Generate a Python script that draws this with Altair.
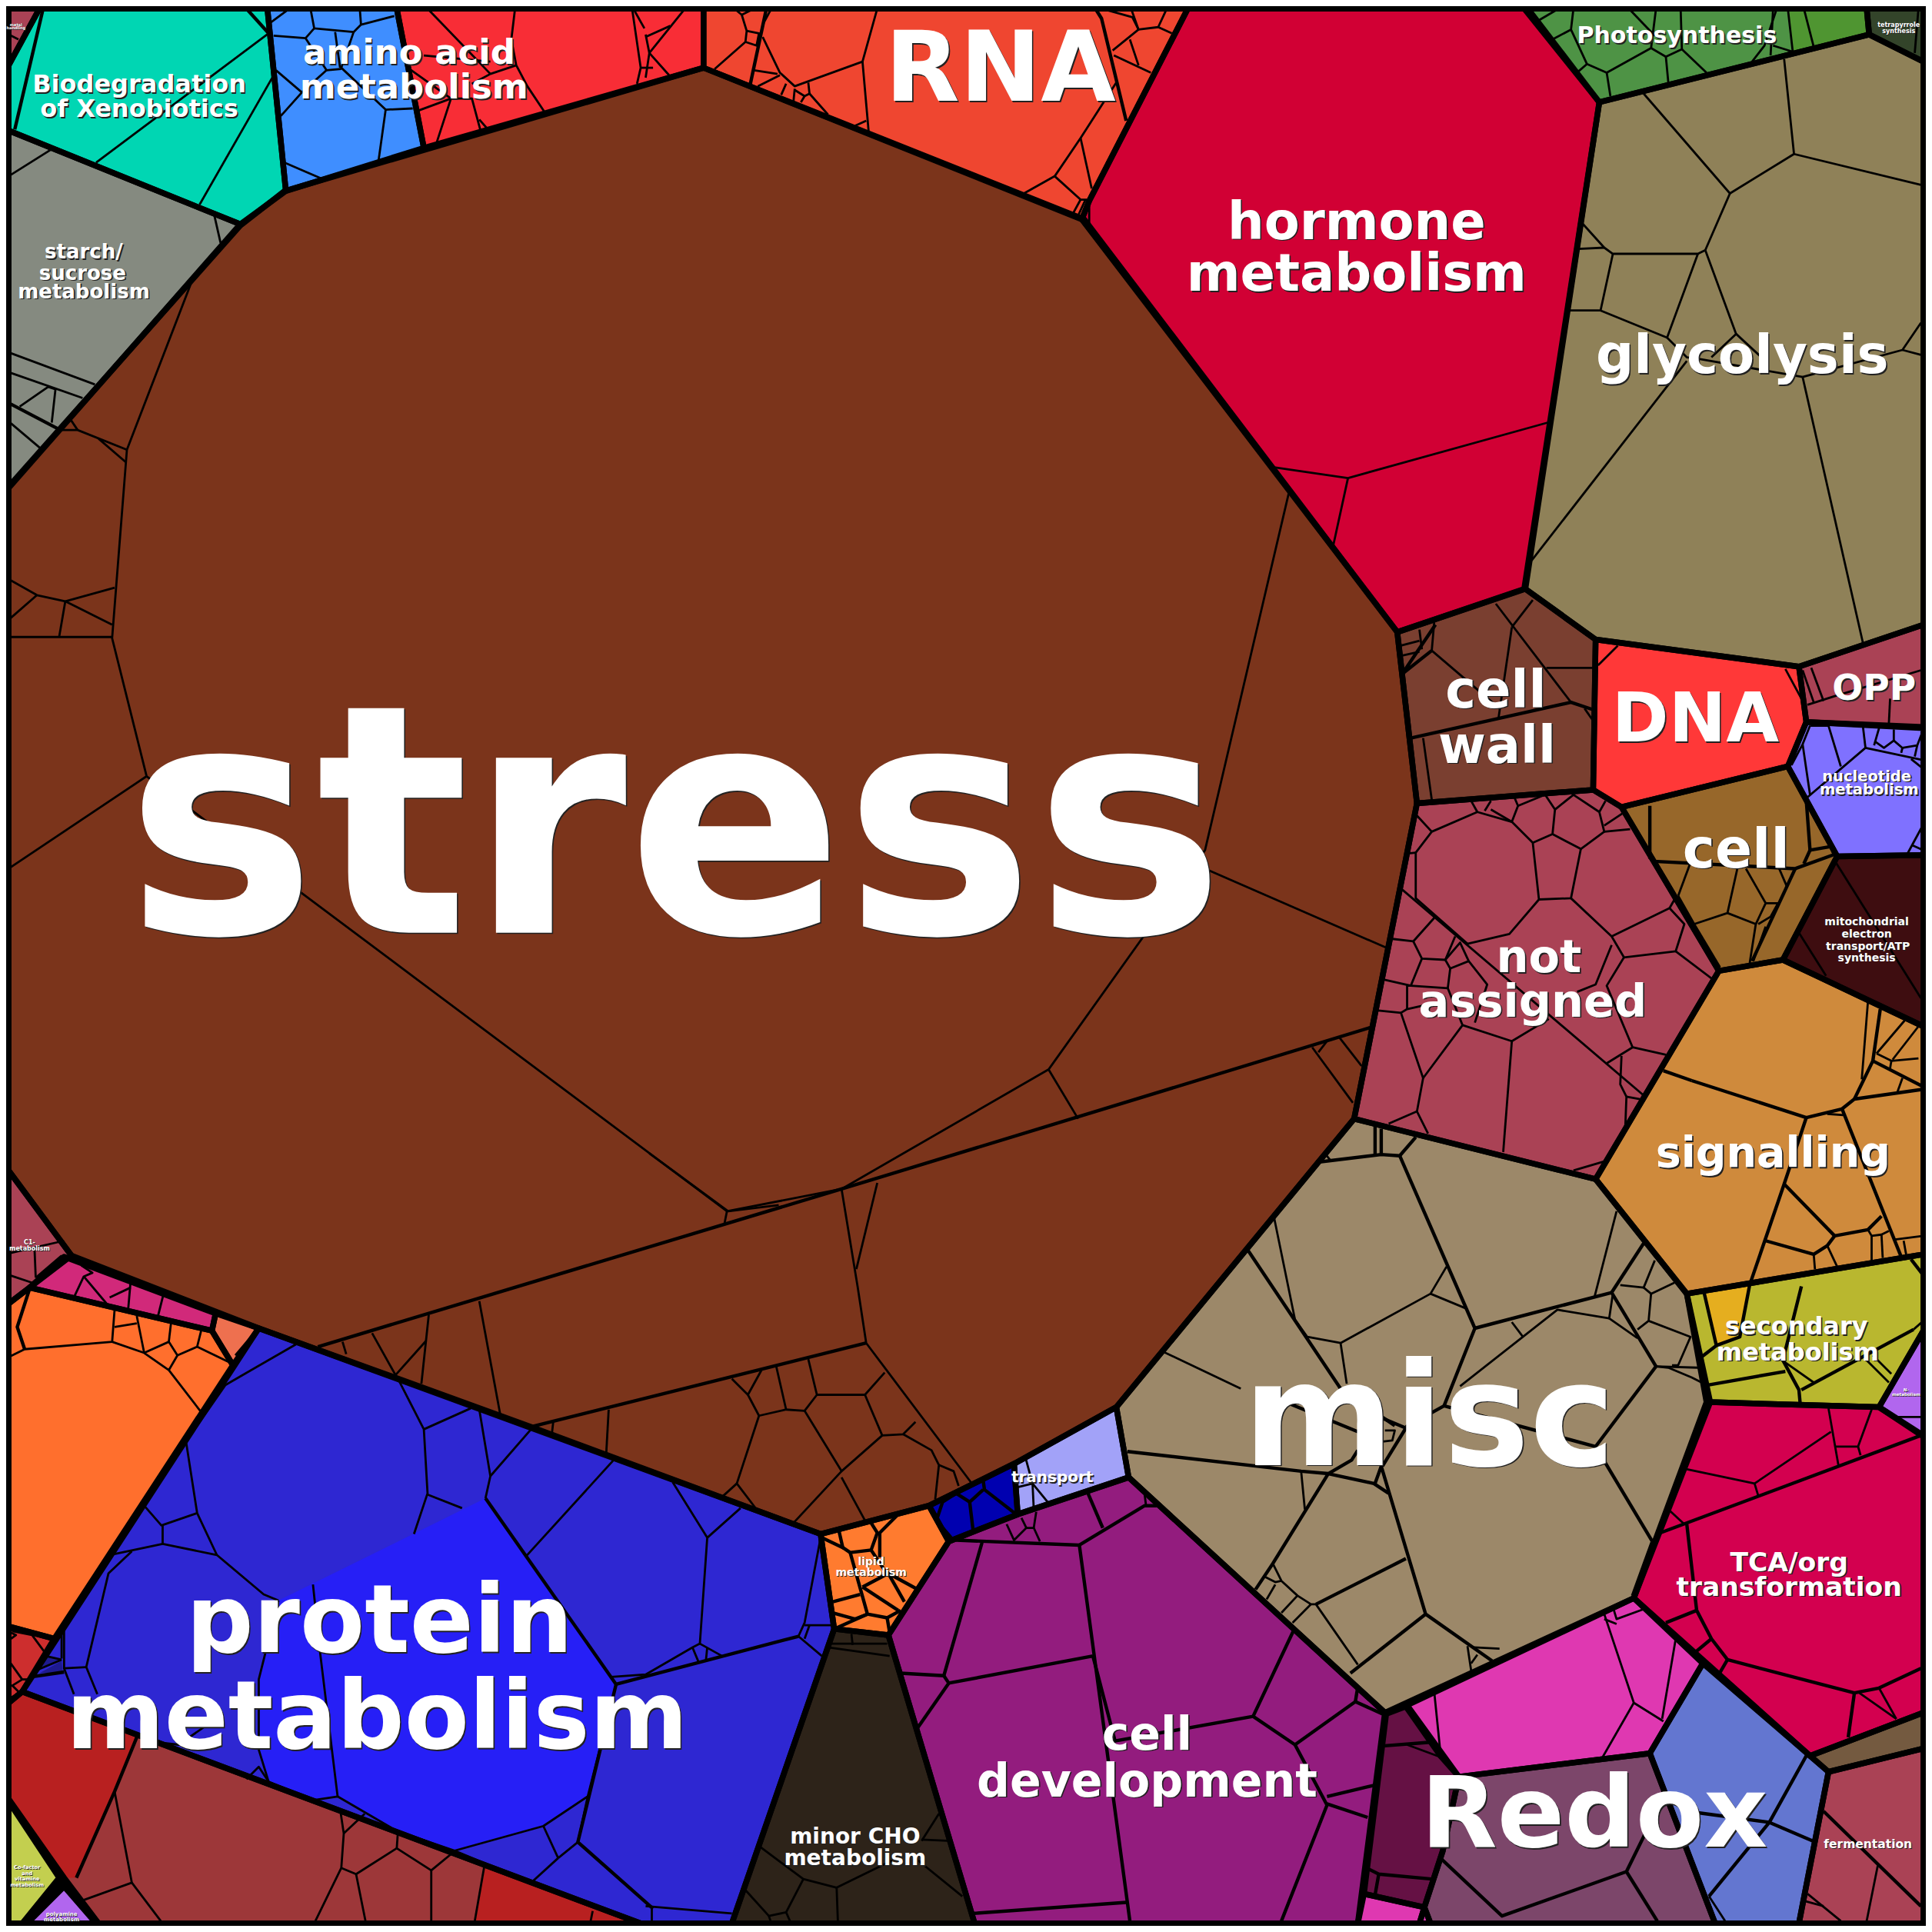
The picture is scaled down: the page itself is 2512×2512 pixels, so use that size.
import altair as alt

# ---- top-level cells: outline vertices (1568-unit canvas)
STRESS = [(7,395),(195,183),(231,155),(571,55),(880,178),(1134,513),(1150,652),(1099,908),(906,1142),(823,1188),(754,1222),(666,1245),(431,1158),(210,1078),(58,1019),(7,950)]
HORMONE = [(964,7),(1237,7),(1298,83),(1237,478),(1134,513),(878,178),(884,163)]
RNA = [(571,7),(964,7),(884,163),(878,178),(571,55)]
RED_TOP = [(322,7),(571,7),(571,55),(344,120)]
AMINO = [(217,7),(322,7),(344,120),(232,155)]
BIODEG = [(7,53),(32,7),(217,7),(232,155),(195,182),(7,106)]
METAL = [(7,7),(32,7),(7,53)]
STARCH = [(7,106),(195,182),(7,396)]
PHOTO = [(1240,7),(1515,7),(1517,28),(1298,83)]
TETRA = [(1515,7),(1561,7),(1561,50),(1517,28)]
GLYCO = [(1298,83),(1517,28),(1561,50),(1561,507),(1460,541),(1295,519),(1238,478)]
CELLWALL = [(1134,513),(1238,478),(1295,519),(1293,641),(1150,652)]
DNA = [(1295,519),(1460,541),(1466,586),(1451,622),(1316,655),(1293,641)]
OPP = [(1460,541),(1561,507),(1561,590),(1466,586)]
NUCLEO = [(1466,586),(1561,591),(1561,694),(1491,695),(1451,622)]
CELL = [(1316,655),(1451,622),(1491,695),(1447,779),(1395,788)]
MITO = [(1491,695),(1561,694),(1561,833),(1447,779)]
NOTASSIGNED = [(1150,652),(1293,641),(1316,655),(1395,788),(1295,957),(1099,908)]
SIGNAL = [(1395,788),(1447,779),(1561,833),(1561,1018),(1369,1050),(1295,957)]
SECONDARY = [(1369,1050),(1561,1018),(1561,1080),(1525,1142),(1388,1138)]
NMETAB = [(1561,1080),(1525,1142),(1561,1165)]
TCA = [(1388,1138),(1525,1142),(1561,1166),(1561,1390),(1469,1425),(1326,1297)]
SLIVER = [(1469,1425),(1561,1390),(1561,1419),(1484,1438)]
FERMENT = [(1484,1438),(1561,1419),(1561,1561),(1460,1561)]
REDOX_MAGENTA = [(1142,1384),(1326,1297),(1382,1350),(1339,1423),(1184,1442)]
REDOX_BLUE = [(1382,1350),(1469,1425),(1484,1438),(1460,1561),(1392,1561),(1339,1423)]
REDOX_MAUVE = [(1184,1442),(1339,1423),(1392,1561),(1161,1561),(1156,1548),(1171,1502)]
DARKPURPLE = [(1125,1391),(1141,1385),(1169,1425),(1184,1442),(1171,1502),(1156,1548),(1107,1537)]
MAGENTA_LOW = [(1107,1537),(1156,1548),(1152,1561),(1102,1561)]
MAGENTA_TINY = [(1156,1548),(1161,1561),(1152,1561)]
MISC = [(906,1142),(1099,908),(1295,957),(1369,1050),(1385,1138),(1326,1297),(1124,1390),(916,1199)]
CELLDEV = [(721,1327),(770,1251),(826,1229),(916,1199),(1124,1390),(1102,1561),(791,1561)]
TRANSPORT = [(906,1142),(916,1199),(826,1229),(823,1188)]
DARKBLUE = [(754,1222),(823,1188),(826,1229),(770,1251)]
LIPID = [(666,1245),(754,1222),(770,1251),(721,1327),(677,1322)]
MINORCHO = [(677,1322),(721,1327),(791,1561),(594,1561)]
PROTEIN = [(210,1078),(666,1245),(677,1322),(594,1561),(520,1561),(18,1373)]
BROWNRED = [(7,1382),(18,1373),(520,1561),(80,1561),(52,1524),(7,1460)]
COFACTOR = [(7,1462),(48,1524),(18,1561),(7,1561)]
POLYAMINE = [(52,1531),(78,1561),(22,1561)]
ORANGE = [(7,1058),(24,1045),(172,1080),(189,1108),(44,1330),(7,1320)]
PINK = [(52,1020),(175,1066),(172,1080),(24,1045)]
SALMON = [(175,1066),(210,1078),(189,1108),(172,1080)]
C1 = [(7,950),(58,1019),(7,1058)]
REDSMALL = [(7,1320),(44,1330),(18,1373),(7,1382)]

TOP_CELLS = [
    (STRESS,"#7b341b"),(HORMONE,"#d10034"),(RNA,"#ef4630"),(RED_TOP,"#f82d36"),(AMINO,"#3f8eff"),
    (BIODEG,"#00d6b3"),(METAL,"#aa4255"),(STARCH,"#858a80"),(PHOTO,"#4e9345"),(TETRA,"#33442a"),
    (GLYCO,"#8f8158"),(CELLWALL,"#7a3f30"),(DNA,"#ff3838"),(OPP,"#aa4255"),(NUCLEO,"#7f71ff"),
    (CELL,"#97672a"),(MITO,"#3e0d10"),(NOTASSIGNED,"#aa4255"),(SIGNAL,"#cf8a3c"),(SECONDARY,"#b9b72f"),
    (NMETAB,"#b166ee"),(TCA,"#d3004f"),(SLIVER,"#745a40"),(FERMENT,"#aa4255"),(REDOX_MAGENTA,"#df38b1"),
    (REDOX_BLUE,"#6376d0"),(REDOX_MAUVE,"#7c466a"),(DARKPURPLE,"#651144"),(MAGENTA_LOW,"#df38b1"),(MAGENTA_TINY,"#df38b1"),(MISC,"#9c8869"),
    (CELLDEV,"#931c7e"),(TRANSPORT,"#a2a2f8"),(DARKBLUE,"#0000b0"),(LIPID,"#ff7b2f"),(MINORCHO,"#2d2319"),
    (PROTEIN,"#2e27d2"),(BROWNRED,"#9d3739"),(COFACTOR,"#c3cf4f"),(POLYAMINE,"#b166ee"),(ORANGE,"#ff6f2d"),
    (PINK,"#d1297a"),(SALMON,"#ee704f"),(C1,"#aa4255"),(REDSMALL,"#cd2e2e"),
]

# ---- sub-cells with a shade of their own (no thick outline)
BRIGHT_BLUE = [(226,1299),(210,1363),(210,1420),(218,1446),(254,1461),(274,1458),(322,1486),(369,1502),(441,1482),(477,1458),(500,1367),(394,1216)]
RED_LEFT = [(7,1382),(18,1373),(111,1410),(93,1454),(62,1524),(52,1524),(7,1460)]
RED_BOTTOM = [(393,1515),(520,1561),(385,1561)]
SUB_CELLS = [
    (BRIGHT_BLUE,"#261ff6"),
    ([(1451,7),(1515,7),(1517,28),(1455,42)],"#4f9531"),
    ([(1383,1049),(1393,1092),(1412,1085),(1420,1043)],"#e5ae1f"),
    (RED_LEFT,"#b82020"),
    (RED_BOTTOM,"#b82020"),
    ([(37,1344),(50,1347),(31,1355)],"#1e1a90"),
    ([(32,1358),(50,1348),(51,1357)],"#1e1a90"),
]

# ---- medium-weight inner boundaries
MEDIUM = [
    [(258,1093),(683,965),(1112,834)],
    [(431,1158),(703,1090)],
    [(1145,599),(1275,570),(1293,576)],
    [(1162,528),(1138,547),(1165,507)],
    [(1342,699),(1457,705),(1490,693)],
    [(1457,705),(1422,780)],
    [(1339,654),(1339,697)],
    [(1466,650),(1469,690),(1486,687),(1488,692)],
    [(1469,690),(1464,701)],
    # signalling
    [(1373,877),(1466,907),(1495,900),(1505,892),(1561,884)],
    [(1350,869),(1373,877)],
    [(1505,892),(1520,861),(1561,882)],
    [(1466,907),(1448,961),(1421,1040)],
    [(1448,961),(1489,1003),(1516,998),(1527,987)],
    [(1495,900),(1543,1020)],
    [(1489,1003),(1483,1011),(1472,1018),(1433,1007)],
    [(1526,819),(1520,861)],
    # secondary
    [(1383,1049),(1393,1092),(1412,1085),(1420,1043)],
    [(1462,1044),(1447,1104),(1460,1128),(1461,1139)],
    [(1387,1124),(1449,1113)],
    [(1380,1102),(1393,1092)],
    [(1462,1128),(1553,1079)],
    [(1551,1022),(1561,1035)],
    # TCA
    [(1345,1245),(1559,1165)],
    [(1369,1237),(1377,1307),(1389,1330),(1402,1347),(1505,1374),(1525,1370),(1559,1354)],
    [(1377,1307),(1352,1317)],
    [(1389,1330),(1377,1340)],
    [(1402,1347),(1395,1359)],
    [(1505,1374),(1500,1410)],
    # redox
    [(1466,1425),(1436,1479),(1387,1539)],
    [(1436,1479),(1471,1494)],
    [(1369,1470),(1436,1479)],
    [(1480,1470),(1559,1547)],
    [(1352,1454),(1320,1519),(1219,1555),(1169,1508)],
    [(1320,1519),(1345,1559)],
    # misc
    [(1071,943),(1121,937),(1136,938),(1149,923)],
    [(1116,914),(1116,937)],[(1121,916),(1121,937)],
    [(1136,938),(1197,1078),(1172,1141),(1163,1146),(1141,1158)],
    [(1013,1015),(1088,1127),(1132,1157)],
    [(1036,985),(1071,943)],
    [(1197,1078),(1308,1049),(1344,1109),(1295,1174),(1172,1141)],
    [(1295,1174),(1341,1251),(1325,1295)],
    [(1308,1049),(1334,1009)],
    [(915,1178),(1056,1194),(1078,1196),(1115,1204),(1127,1212)],
    [(1078,1196),(1033,1269),(1019,1290)],
    [(1078,1196),(1097,1185),(1102,1177)],
    [(1122,1190),(1141,1159),(1122,1151)],
    [(1116,1204),(1121,1190),(1157,1310),(1211,1348)],
    [(1157,1310),(1096,1358)],
    [(1046,1139),(1102,1162)],
    [(1068,1302),(1141,1265)],
    # cell development
    [(776,1250),(876,1254),(917,1559)],
    [(876,1254),(929,1222),(939,1222)],
    [(797,1252),(766,1360)],
    [(731,1358),(766,1360),(770,1366),(887,1344)],
    [(770,1366),(745,1402)],
    [(789,1553),(914,1544)],
    [(887,1344),(905,1413),(1017,1393),(1050,1323)],
    [(1017,1393),(1051,1416),(1100,1381),(1122,1391)],
    [(1102,1369),(1100,1381)],
    [(1051,1416),(1077,1465),(1040,1559)],
    [(883,1212),(895,1240)],
    [(1077,1458),(1115,1449)],
    [(1077,1464),(1110,1475)],
    # dark purple
    [(1109,1516),(1119,1521),(1162,1525)],
    [(1119,1521),(1116,1538)],
    [(1122,1417),(1161,1414)],
    # dark blue
    [(798,1202),(799,1209),(826,1230)],
    [(776,1212),(787,1219),(798,1209)],
    [(787,1219),(790,1244)],
    [(776,1212),(765,1219),(760,1234),(772,1248)],
    # lipid
    [(667,1248),(684,1256),(681,1243)],
    [(684,1256),(690,1260),(707,1258),(712,1244),(707,1236)],
    [(728,1230),(714,1244),(714,1264)],
    [(690,1260),(704,1310),(720,1313),(731,1307)],
    [(676,1300),(698,1294)],
    [(676,1309),(694,1314),(704,1310)],
    [(704,1310),(677,1322)],
    [(700,1288),(729,1307)],
    [(700,1288),(721,1277),(734,1300)],
    [(721,1277),(743,1289)],
    [(707,1258),(721,1279)],
    [(720,1313),(722,1325)],
    # protein
    [(394,1216),(500,1367),(648,1328)],
    [(500,1367),(469,1495),(530,1549)],
    [(25,1361),(52,1357)],
    # small pieces
    [(7,327),(49,349)],
    [(609,68),(622,7)],
    [(889,7),(894,15),(914,98)],
    [(35,7),(12,105)],
    [(200,7),(218,27)],
    [(24,1046),(14,1077),(20,1095)],
    [(111,1410),(93,1454),(62,1524)],
    [(18,1373),(8,1379)],
]

# ---- thin inner boundaries
THIN = [
    # stress
    [(155,230),(103,365),(91,518),(119,630),(245,725),(590,983),(683,965),(851,868),(978,690),(1046,400)],
    [(119,630),(7,705)],[(978,705),(1127,770)],[(851,868),(875,908)],[(590,983),(588,993)],
    [(103,365),(63,349),(50,349)],[(80,356),(102,375)],[(57,340),(63,349)],
    [(93,477),(53,488),(30,483),(7,470)],[(53,488),(91,507)],[(30,483),(7,503)],[(53,488),(48,517)],[(7,517),(91,517)],
    [(683,965),(696,1044),(703,1090),(788,1203)],[(712,960),(695,1030)],
    [(594,1119),(607,1132),(618,1112)],[(607,1132),(616,1149),(638,1144),(630,1109)],
    [(638,1144),(653,1145),(663,1132),(656,1103)],[(663,1132),(702,1132),(718,1114)],
    [(702,1132),(716,1165),(733,1164),(743,1154)],[(733,1164),(756,1177),(762,1189),(759,1217)],
    [(716,1165),(683,1194),(653,1145)],[(616,1149),(598,1204),(614,1225)],[(598,1204),(587,1214)],
    [(683,1194),(644,1236)],[(683,1199),(702,1234)],[(762,1189),(774,1194),(778,1206)],
    [(389,1056),(406,1148)],[(348,1067),(342,1123)],[(302,1082),(321,1116),(346,1088)],[(278,1089),(281,1099)],
    [(449,1154),(448,1163)],[(494,1144),(492,1180)],[(527,936),(591,983),(632,978)],
    [(1065,850),(1098,895)],[(1087,842),(1105,865)],[(1077,845),(1070,854)],
    # glycolysis
    [(1334,76),(1404,157),(1384,203),(1378,206),(1309,206),(1302,201),(1284,181)],
    [(1448,48),(1456,125),(1559,150)],[(1456,125),(1404,157)],[(1302,201),(1281,202)],
    [(1309,206),(1299,252),(1274,252)],[(1299,252),(1353,274),(1378,206)],[(1384,203),(1409,271),(1389,290)],
    [(1353,274),(1369,290),(1377,291),(1463,306)],[(1369,293),(1243,455)],[(1409,271),(1435,295)],
    [(1463,306),(1512,522)],[(1463,306),(1544,284),(1559,262)],[(1544,284),(1559,288)],
    # hormone
    [(1256,343),(1094,388),(1032,379)],[(1094,388),(1082,443)],[(884,163),(884,184)],
    # RNA
    [(596,7),(602,12),(606,25),(605,34),(580,56)],[(602,12),(612,7)],[(606,25),(616,27),(614,37),(605,34)],
    [(626,7),(619,20)],[(619,30),(633,59),(645,70),(700,50),(712,7)],[(700,50),(705,107)],[(694,102),(703,98)],
    [(612,57),(631,60)],[(633,61),(615,70)],[(638,68),(634,77)],[(645,72),(644,82)],[(645,73),(653,78),(657,76),(672,93)],
    [(657,76),(656,67)],[(653,78),(650,83)],[(906,67),(877,112),(856,143),(831,157)],[(877,112),(886,153)],
    [(856,143),(877,162),(882,162)],[(877,162),(871,173)],[(881,162),(875,175)],
    [(894,7),(919,14),(924,24),(903,41)],[(918,7),(924,24),(940,22),(947,7)],[(940,22),(951,27)],[(904,45),(934,59)],[(917,32),(924,53)],
    # red top
    [(347,7),(398,60)],[(418,7),(415,32),(419,53),(428,70),(442,91)],[(344,45),(398,50)],[(419,53),(398,60)],
    [(331,55),(366,80),(354,117)],[(339,90),(366,80)],[(366,80),(383,80),(390,106)],[(389,97),(396,105)],[(383,68),(398,60)],
    [(513,7),(520,55),(517,68)],[(514,7),(523,23)],[(520,55),(530,55)],[(524,30),(544,21)],[(556,7),(527,43),(543,61)],[(524,28),(527,43),(524,63)],
    # amino
    [(220,18),(235,7)],[(252,7),(255,23),(287,26),(293,20),(320,13)],[(255,23),(248,31),(222,29)],[(292,7),(293,20)],
    [(287,26),(277,55),(313,89),(335,88)],[(248,31),(265,57),(277,56)],[(265,57),(245,75),(228,94)],[(245,75),(224,57)],
    [(313,89),(307,132)],[(231,132),(261,145)],[(272,26),(276,55)],
    # biodegradation
    [(218,27),(78,132)],[(221,63),(162,166)],
    # metal
    [(7,28),(15,32)],
    # starch
    [(7,143),(42,121)],[(174,175),(179,197)],[(7,286),(77,312)],[(7,302),(67,323)],[(16,330),(39,314),(45,316),(42,343)],[(7,342),(33,364)],
    # photosynthesis
    [(1248,17),(1265,7)],[(1260,32),(1275,24),(1277,7)],[(1275,24),(1288,52),(1304,59),(1340,39),(1344,7)],[(1288,52),(1281,58)],
    [(1304,59),(1307,78)],[(1340,39),(1352,46),(1365,40),(1364,7)],[(1352,46),(1354,67)],[(1365,40),(1385,59)],[(1322,7),(1343,29)],
    [(1442,7),(1432,37),(1422,50)],[(1439,8),(1437,45)],[(1439,37),(1455,42),(1451,7)],[(1464,7),(1472,38)],
    # tetrapyrrole
    [(1557,7),(1554,43)],
    # cell wall
    [(1214,490),(1275,570)],[(1227,509),(1216,584)],[(1244,487),(1227,509)],[(1164,505),(1162,528),(1217,575)],
    [(1137,524),(1152,520)],[(1138,532),(1152,529)],[(1152,511),(1154,527)],[(1255,542),(1294,542)],[(1155,599),(1162,649)],[(1286,575),(1293,585)],
    # DNA
    [(1297,540),(1313,524)],[(1449,543),(1462,567)],
    # OPP
    [(1463,544),(1472,570)],[(1470,542),(1480,569)],[(1467,572),(1489,565),(1559,544)],[(1534,567),(1533,587)],
    # nucleotide
    [(1469,589),(1484,589),(1494,622)],[(1469,589),(1463,604),(1454,621)],[(1463,604),(1469,645)],
    [(1467,647),(1514,607),(1561,617)],[(1512,590),(1514,607)],[(1525,591),(1521,605)],
    [(1522,602),(1529,607),(1537,601),(1544,607),(1556,605),(1561,592)],[(1537,592),(1537,601)],[(1544,607),(1543,611)],
    [(1556,605),(1554,614)],[(1551,616),(1561,624)],[(1548,693),(1561,669)],[(1552,686),(1561,690)],
    # cell
    [(1372,700),(1362,727)],[(1362,727),(1375,750),(1402,741),(1410,705)],[(1402,741),(1425,750),(1433,733),(1417,705)],
    [(1433,733),(1443,733),(1437,744),(1427,750)],[(1444,705),(1450,719)],[(1375,750),(1396,785)],[(1425,750),(1420,782)],[(1433,752),(1423,780)],
    # mitochondrial
    [(1490,700),(1559,810)],[(1460,757),(1482,792)],
    # not assigned
    [(1138,722),(1334,889)],
    [(1162,675),(1199,659),(1227,667),(1244,684),(1249,730),(1225,758),(1191,766),(1149,729),(1149,692),(1162,675)],
    [(1150,662),(1162,675)],[(1140,693),(1149,692)],[(1199,659),(1194,650)],[(1205,658),(1210,650)],
    [(1210,657),(1227,667),(1232,654),(1229,647)],[(1232,654),(1254,645),(1262,657),(1260,677),(1244,684)],
    [(1262,657),(1277,645),(1298,659),(1302,675),(1283,689),(1260,677)],[(1298,659),(1303,650)],[(1302,670),(1317,660)],[(1302,675),(1323,673)],
    [(1283,689),(1275,729),(1249,730)],[(1275,729),(1308,760),(1355,737),(1367,750),(1360,772),(1318,777),(1308,760)],[(1359,730),(1355,737)],
    [(1360,772),(1389,794)],[(1318,777),(1304,800),(1325,850),(1352,856)],[(1308,767),(1295,799),(1280,805)],[(1325,850),(1304,863)],
    [(1316,857),(1315,880),(1320,890),(1319,917),(1304,942),(1277,950)],[(1320,890),(1331,892)],
    [(1227,845),(1220,935)],[(1187,832),(1227,845),(1257,827)],[(1187,832),(1155,875),(1137,822),(1117,820)],
    [(1155,875),(1150,902),(1159,920)],[(1150,902),(1127,912)],[(1130,762),(1147,764),(1164,745)],
    [(1147,764),(1154,778),(1173,779),(1181,760)],[(1173,779),(1185,765),(1192,780),(1177,786),(1173,779)],
    [(1154,778),(1145,800),(1123,795)],[(1145,800),(1142,800),(1142,819)],[(1145,800),(1175,802),(1177,786)],
    [(1192,780),(1207,799),(1197,830)],[(1175,802),(1187,832)],[(1137,822),(1142,819),(1160,815)],
    # signalling
    [(1516,813),(1511,876)],[(1523,855),(1535,861),(1557,859)],[(1535,861),(1534,867)],[(1546,828),(1523,855)],[(1557,833),(1536,860)],
    [(1544,875),(1540,886)],[(1483,904),(1496,905)],[(1472,1018),(1473,1030)],[(1483,1011),(1491,1028)],
    [(1516,998),(1519,1003),(1527,1002),(1533,999)],[(1519,1003),(1519,1023)],[(1527,1002),(1528,1021)],
    [(1538,1006),(1561,1003)],[(1545,1007),(1547,1018)],
    # secondary
    [(1445,1103),(1472,1122)],[(1515,1104),(1533,1122)],[(1520,1100),(1535,1115)],[(1553,1079),(1561,1072)],
    # nitrogen
    [(1540,1150),(1561,1150)],
    # TCA
    [(1509,1374),(1539,1395)],[(1525,1370),(1539,1395)],[(1484,1143),(1492,1189)],[(1490,1174),(1508,1174),(1519,1144)],[(1508,1174),(1510,1181)],
    [(1486,1162),(1424,1204),(1367,1192)],[(1424,1204),(1427,1214)],[(1354,1225),(1367,1237)],
    # fermentation
    [(1524,1514),(1515,1559)],[(1465,1543),(1480,1547)],[(1467,1537),(1494,1559)],
    # redox
    [(1164,1373),(1169,1422)],[(1302,1310),(1326,1382),(1350,1397)],[(1326,1382),(1299,1429)],[(1360,1330),(1349,1395)],
    [(1309,1304),(1312,1314),(1334,1306)],[(1302,1314),(1312,1318)],[(1387,1539),(1400,1559)],
    [(1142,1416),(1169,1426)],
    # misc
    [(1076,937),(1080,942)],[(1034,988),(1051,1071)],
    [(1051,1071),(1061,1085),(1088,1090),(1161,1050),(1174,1028)],[(1161,1050),(1190,1062)],[(1088,1090),(1093,1123)],
    [(1312,983),(1294,1053)],[(1315,1043),(1334,1045),(1343,1023)],[(1334,1045),(1340,1050),(1359,1041)],
    [(1340,1050),(1338,1072),(1329,1079)],[(1338,1072),(1372,1085),(1362,1108),(1357,1108)],[(1309,1050),(1306,1070),(1329,1086)],
    [(1306,1070),(1264,1063),(1185,1125)],[(1227,1073),(1236,1085)],[(1344,1109),(1354,1110),(1373,1118),(1381,1122)],[(1344,1109),(1378,1110)],
    [(1124,1161),(1132,1161),(1130,1169),(1122,1170)],[(1056,1194),(1059,1225)],
    [(1033,1269),(1040,1283),(1053,1295),(1064,1302),(1068,1302),(1102,1351)],
    [(1027,1280),(1035,1284),(1040,1283)],[(1035,1286),(1028,1298)],[(1053,1295),(1040,1309)],[(1064,1302),(1049,1317)],
    [(1191,1336),(1194,1356)],[(1196,1337),(1217,1338)],[(1199,1343),(1194,1350)],[(944,1097),(1007,1127)],
    # cell development
    [(817,1237),(823,1250),(833,1240),(839,1240),(844,1251)],[(841,1227),(839,1240)],[(829,1232),(833,1240)],
    [(1051,1416),(1062,1436)],[(929,1213),(930,1221)],
    # transport
    [(832,1182),(838,1204),(826,1207)],[(838,1204),(851,1220),(839,1225)],[(839,1225),(838,1204)],
    # minor CHO
    [(672,1337),(722,1344)],[(675,1334),(720,1334)],[(691,1326),(692,1335)],
    [(617,1499),(652,1525),(679,1532),(724,1510)],[(679,1532),(680,1559)],[(652,1525),(638,1552),(624,1555),(605,1534)],[(624,1555),(626,1561)],[(638,1552),(642,1561)],
    [(744,1509),(781,1539)],[(748,1493),(769,1494)],[(748,1494),(762,1472)],
    # protein
    [(183,1124),(242,1090)],[(183,1124),(151,1170),(160,1228),(176,1262),(214,1294),(226,1299)],
    [(226,1299),(210,1363),(210,1420),(218,1446),(254,1461),(274,1458),(322,1486),(369,1502),(441,1482),(477,1458),(500,1367)],
    [(324,1121),(344,1160),(347,1212),(336,1245)],[(344,1160),(382,1143)],[(389,1144),(398,1198),(394,1216)],[(347,1213),(375,1224)],
    [(431,1160),(398,1198)],[(498,1185),(427,1263)],
    [(546,1203),(574,1248),(568,1334),(562,1337),(524,1359),(496,1361)],[(574,1248),(601,1224)],[(568,1334),(586,1344)],[(562,1337),(567,1349)],[(574,1337),(573,1347)],
    [(666,1248),(653,1317),(648,1328),(667,1344)],[(653,1319),(676,1319)],[(657,1319),(653,1330)],
    [(254,1286),(260,1343),(274,1458)],[(477,1458),(469,1495)],
    [(441,1482),(453,1508)],[(453,1508),(469,1495)],[(431,1528),(453,1508)],[(369,1502),(431,1528)],
    [(117,1222),(131,1238),(160,1228)],[(132,1238),(132,1253),(176,1262)],[(132,1253),(89,1262)],
    [(107,1259),(88,1277),(70,1353),(79,1375)],[(70,1353),(52,1354),(60,1375)],[(52,1323),(52,1354)],[(50,1325),(50,1346)],
    [(37,1344),(50,1347)],[(31,1355),(50,1347)],
    [(218,1446),(210,1434),(200,1444)],[(128,1414),(145,1416),(181,1391)],
    [(524,1547),(594,1553)],[(529,1549),(529,1559)],
    # brown-red
    [(93,1454),(107,1528),(68,1542)],[(107,1528),(132,1561)],[(276,1468),(279,1488),(277,1516),(255,1561)],
    [(279,1488),(296,1472)],[(277,1516),(289,1521),(322,1500),(350,1518),(367,1504)],[(322,1500),(323,1486)],[(289,1521),(297,1561)],
    [(350,1518),(350,1561)],[(481,1551),(479,1561)],[(393,1515),(385,1561)],
    # orange
    [(20,1095),(91,1089),(93,1063)],[(91,1089),(117,1098),(137,1112),(164,1147)],[(117,1098),(137,1089),(144,1100),(137,1112)],
    [(111,1068),(117,1098)],[(93,1077),(111,1074)],[(139,1072),(137,1089)],[(144,1100),(160,1093),(164,1077)],[(160,1093),(189,1107)],[(8,1101),(20,1095)],
    # pink
    [(66,1027),(75,1033),(68,1036),(60,1053)],[(77,1030),(106,1040),(104,1063)],[(68,1036),(89,1061)],[(89,1053),(106,1045)],[(133,1049),(128,1069)],
    # salmon
    [(191,1100),(207,1081)],
    # C1
    [(28,1013),(29,1037)],[(8,1017),(52,1007)],[(8,1035),(26,1041)],[(29,1037),(50,1019)],
    # small red
    [(8,1322),(11,1324),(26,1327),(37,1342)],[(8,1349),(18,1363),(10,1368),(8,1368)],[(18,1363),(22,1363)],[(10,1368),(15,1373)],
    [(9,1325),(13,1327),(9,1330)],
]

# ---- labels: one row per text line
LABEL_TEXT = ["stress","RNA","hormone","metabolism","glycolysis","amino acid","metabolism","Biodegradation","of Xenobiotics",
    "starch/","sucrose","metabolism","Photosynthesis","tetrapyrrole","synthesis","metal","handling","cell","wall","DNA","OPP",
    "nucleotide","metabolism","cell","mitochondrial","electron","transport/ATP","synthesis","not","assigned","signalling",
    "secondary","metabolism","misc","TCA/org","transformation","N-","metabolism","fermentation","Redox","cell","development",
    "minor CHO","metabolism","lipid","metabolism","transport","protein","metabolism","C1-","metabolism","Co-factor","and","vitamine","metabolism",
    "polyamine","metabolism"]
LABEL_X = [548,812,1101,1101,1414,332,336,113,113,68,67,68,1361,1541,1541,13,13,1214,1215,1376,1521,1515,1517,1409,1515,1515,1516,1515,1249,1244,1439,
    1458,1459,1160,1452,1452,1547,1547,1516,1294,931,931,694,694,707,707,854,308,306,24,24,22,22,22,22,50,50]
LABEL_Y = [757,82,194,236,303,52,80,75,95,210,227,242,35,22,27,21,24,574,619,602,568,634,645,704,751,761,771,780,789,825,947,1083,1104,1189,1275,1295,
    1129,1133,1500,1499,1420,1458,1496,1514,1270,1279,1203,1341,1419,1010,1015,1517,1522,1526,1531,1555,1559]
LABEL_SIZE = [416,126,67,67,69,45,45,32,32,26,26,26,30,8,8,5,5,67,67,89,47,19.5,19.5,71,14,14,14,14,59,59,55.5,32,32,188,34.5,34.5,5.6,5.6,15.5,129,60,60,28,28,14,14,20,122.5,122.5,8,8,6.6,6.6,6.6,6.6,7,7]

SCALE = 2512 / 1568
PAGE_MARGIN = 8


def closed(points):
    return [list(p) for p in points] + [list(points[0])]


def polygon_feature(points, fill):
    return {"type": "Feature", "properties": {"fill": fill},
            "geometry": {"type": "Polygon", "coordinates": [closed(points)]}}


def line_feature(points):
    return {"type": "Feature", "properties": {},
            "geometry": {"type": "LineString", "coordinates": [list(p) for p in points]}}


def shapes(features):
    return alt.Chart(alt.Data(values=features)).project(
        type="identity", scale=SCALE, translate=[-PAGE_MARGIN, -PAGE_MARGIN])


top_fill = shapes([polygon_feature(p, c) for p, c in TOP_CELLS]).mark_geoshape(strokeWidth=0).encode(
    fill=alt.Fill("properties.fill:N", scale=None))
sub_fill = shapes([polygon_feature(p, c) for p, c in SUB_CELLS]).mark_geoshape(strokeWidth=0).encode(
    fill=alt.Fill("properties.fill:N", scale=None))
thin = shapes([line_feature(l) for l in THIN]).mark_geoshape(
    filled=False, stroke="#000000", strokeWidth=2.8, strokeJoin="round")
medium = shapes([line_feature(l) for l in MEDIUM]).mark_geoshape(
    filled=False, stroke="#000000", strokeWidth=4.4, strokeJoin="round")
thick = shapes([polygon_feature(p, "none") for p, c in TOP_CELLS]).mark_geoshape(
    filled=False, stroke="#000000", strokeWidth=7.5, strokeJoin="round")
frame = shapes([polygon_feature([(0, 0), (1568, 0), (1568, 1568), (0, 1568)], "none")]).mark_geoshape(
    filled=False, stroke="#000000", strokeWidth=24)

rows = [{"t": t, "lon": x, "lat": y, "s": s} for t, x, y, s in zip(LABEL_TEXT, LABEL_X, LABEL_Y, LABEL_SIZE)]
big = [r for r in rows if r["s"] >= 18]
small = [r for r in rows if r["s"] < 18]


def text_layer(data, color, dx=0, dy=0):
    return alt.Chart(alt.Data(values=data)).project(
        type="identity", scale=SCALE, translate=[-PAGE_MARGIN, -PAGE_MARGIN]).mark_text(
        font="DejaVu Sans", fontWeight="bold", align="center", baseline="alphabetic",
        color=color, dx=dx, dy=dy).encode(
        longitude="lon:Q", latitude="lat:Q", text="t:N", size=alt.Size("s:Q", scale=None))


chart = alt.layer(
    top_fill, sub_fill, thin, medium, thick, frame,
    text_layer(big, "#222222", 1.6, 1.6), text_layer(small, "#222222", 0.8, 0.8),
    text_layer(big, "#ffffff"), text_layer(small, "#ffffff"),
).properties(width=2496, height=2496, padding=0, background="#000000",
             autosize=alt.AutoSizeParams(type="none")).configure_view(stroke=None)

chart.save("out.html", embed_options={"renderer": "svg", "actions": False})
